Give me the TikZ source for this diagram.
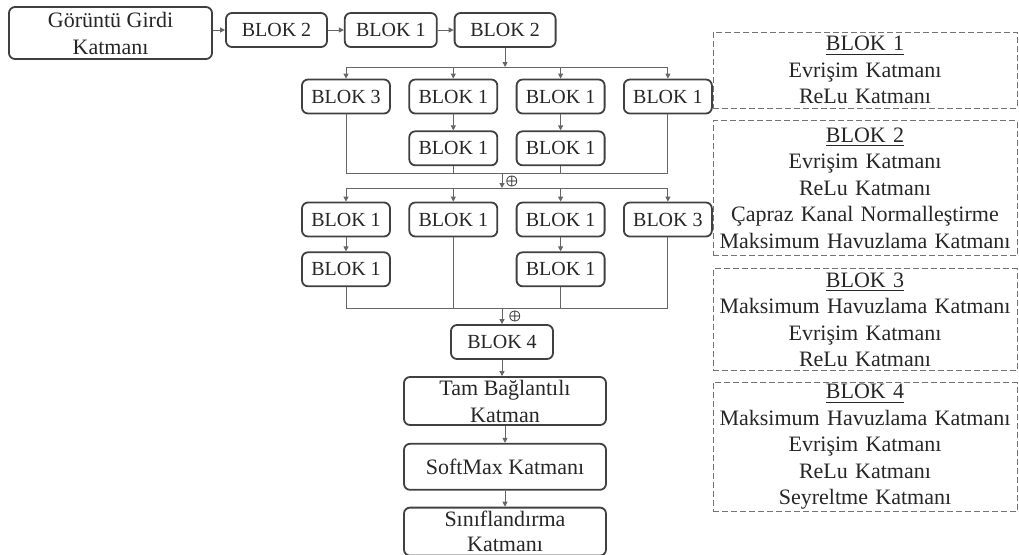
\documentclass[tikz,border=0pt]{standalone}
\usepackage{amsmath,amssymb}
\usepackage{fontspec}
\setmainfont{Liberation Serif}
\usepackage{tikz}
\usetikzlibrary{arrows.meta,positioning}

\begin{document}
\begin{tikzpicture}[
  x=0.5pt, y=-0.5pt,
  node distance=8pt and 8.75pt,
  every node/.style={font=\fontsize{10}{12}\selectfont, text=black!85},
  blk/.style={rectangle, rounded corners=3pt, draw=black!75, line width=0.9pt, align=center,
              minimum height=17pt, minimum width=44pt, inner sep=1pt},
  layer/.style={blk, minimum width=101pt, inner sep=0pt, font=\fontsize{11}{13.5}\selectfont},
  desc/.style={rectangle, draw=black!55, dashed, dash pattern=on 3pt off 1.5pt, align=center,
               text width=150pt, inner sep=1pt, font=\fontsize{11}{13.25}\selectfont},
  lin/.style={draw=black!60, line width=0.5pt},
  arr/.style={lin, -{Triangle[length=2.5pt, width=2.5pt]}},
  sum/.style={font=\fontsize{6.5}{7}\selectfont, inner sep=0pt}]

\useasboundingbox (0,0) rectangle (1019,554);

% input and first blocks
\node[layer, minimum width=101.5pt, minimum height=26pt] (inp) at (110.5,33) {Görüntü Girdi\\Katmanı};
\node[blk, minimum width=50.5pt] (b2a) at (276.5,30) {BLOK 2};
\node[blk, minimum width=46pt, right=8pt of b2a] (b1a) {BLOK 1};
\node[blk, minimum width=50.5pt, right=8pt of b1a] (b2b) {BLOK 2};

% first parallel stage
\node[blk] (r1a) at (346,96.5) {BLOK 3};
\node[blk, right=of r1a] (r1b) {BLOK 1};
\node[blk, right=of r1b] (r1c) {BLOK 1};
\node[blk, right=of r1c] (r1d) {BLOK 1};
\node[blk, below=of r1b] (r2b) {BLOK 1};
\node[blk, below=of r1c] (r2c) {BLOK 1};

% second parallel stage
\node[blk] (r3a) at (346,219.5) {BLOK 1};
\node[blk, right=of r3a] (r3b) {BLOK 1};
\node[blk, right=of r3b] (r3c) {BLOK 1};
\node[blk, right=of r3c] (r3d) {BLOK 3};
\node[blk, below=7pt of r3a] (r4a) {BLOK 1};
\node[blk, below=7pt of r3c] (r4c) {BLOK 1};

% output part
\node[blk, minimum width=51pt] (b4) at (502,342) {BLOK 4};
\node[layer, minimum height=24pt] (tam) at (505,401) {Tam Bağlantılı\\Katman};
\node[layer, minimum height=23pt, below=8.5pt of tam] (soft) {SoftMax Katmanı};
\node[layer, minimum height=24pt, below=8pt of soft, font=\fontsize{11}{12.5}\selectfont] (cls) {Sınıflandırma\\Katmanı};

% block legend
\node[desc, minimum height=38pt] (d1) at (865,70) {\underline{BLOK 1}\\Evrişim Katmanı\\ReLu Katmanı};
\node[desc, minimum height=67.5pt, below=6pt of d1] (d2) {\underline{BLOK 2}\\Evrişim Katmanı\\ReLu Katmanı\\Çapraz Kanal Normalleştirme\\Maksimum Havuzlama Katmanı};
\node[desc, minimum height=51pt, below=6pt of d2] (d3) {\underline{BLOK 3}\\Maksimum Havuzlama Katmanı\\Evrişim Katmanı\\ReLu Katmanı};
\node[desc, minimum height=64.5pt, below=5.5pt of d3] (d4) {\underline{BLOK 4}\\Maksimum Havuzlama Katmanı\\Evrişim Katmanı\\ReLu Katmanı\\Seyreltme Katmanı};

\coordinate (fork1) at (502,67);
\coordinate (join1) at (502,173);
\coordinate (fork2) at (502,188);
\coordinate (join2) at (502,308);

\draw[arr] (inp.east |- b2a) -- (b2a);
\draw[arr] (b2a) -- (b1a);
\draw[arr] (b1a) -- (b2b);
\draw[arr] (b2b.south) -- (b2b.south |- fork1);

\draw[lin] (r1a.north |- fork1) -- (r1d.north |- fork1);
\foreach \n in {r1a,r1b,r1c,r1d}
  \draw[arr] (\n.north |- fork1) -- (\n.north);
\draw[arr] (r1b) -- (r2b);
\draw[arr] (r1c) -- (r2c);
\draw[lin] (r1a.south) |- (join1) -| (r1d.south);
\foreach \n in {r2b,r2c}
  \draw[lin] (\n.south) -- (\n.south |- join1);
\draw[arr] (join1) -- (fork2);
\node[sum] (sum1) at (512,181) {$\boldsymbol{\oplus}$};

\draw[lin] (r3a.north |- fork2) -- (r3d.north |- fork2);
\foreach \n in {r3a,r3b,r3c,r3d}
  \draw[arr] (\n.north |- fork2) -- (\n.north);
\draw[arr] (r3a) -- (r4a);
\draw[arr] (r3c) -- (r4c);
\draw[lin] (r4a.south) |- (join2) -| (r3d.south);
\foreach \n in {r3b,r4c}
  \draw[lin] (\n.south) -- (\n.south |- join2);
\draw[arr] (join2) -- (join2 |- b4.north);
\node[sum] (sum2) at (515,316) {$\boldsymbol{\oplus}$};

\draw[arr] (b4.south) -- (b4.south |- tam.north);
\draw[arr] (tam) -- (soft);
\draw[arr] (soft) -- (cls);
\end{tikzpicture}
\end{document}
